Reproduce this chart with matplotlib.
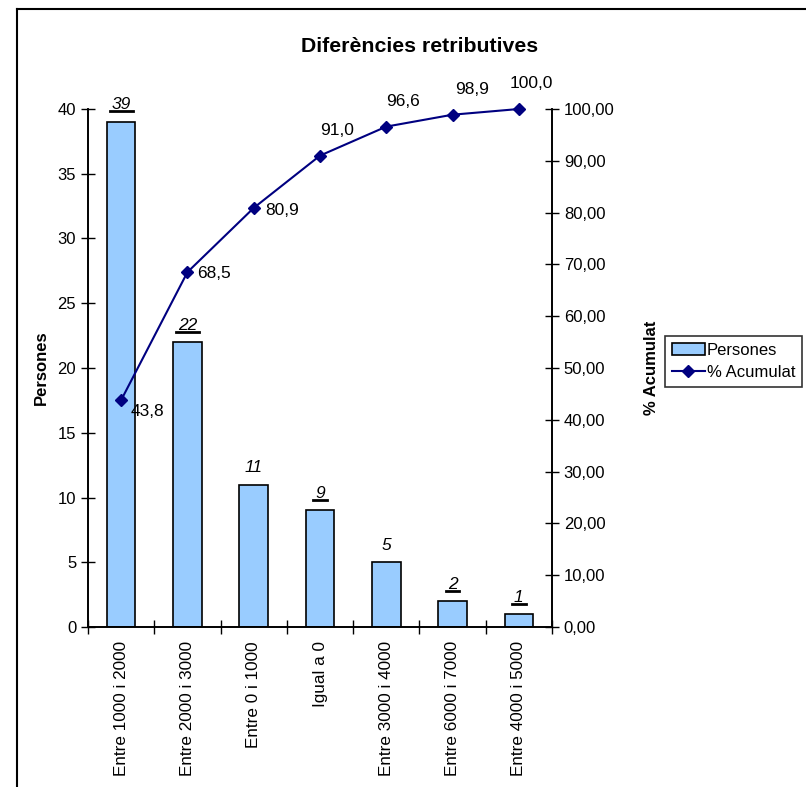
import numpy as np
import matplotlib.pyplot as plt
from matplotlib.lines import Line2D

plt.rcParams['font.family'] = ['Liberation Sans', 'DejaVu Sans']

categories = ["Entre 1000 i 2000", "Entre 2000 i 3000", "Entre 0 i 1000", "Igual a 0",
              "Entre 3000 i 4000", "Entre 6000 i 7000", "Entre 4000 i 5000"]
persones = [39, 22, 11, 9, 5, 2, 1]
acumulat = [43.8, 68.5, 80.9, 91.0, 96.6, 98.9, 100.0]
underlined = [True, True, False, True, False, True, True]

bar_color = "#99CCFF"
line_color = "#000080"

fig = plt.figure(figsize=(8.06, 7.87), dpi=100)
ax = fig.add_axes([88 / 806, 1 - 627 / 787, (552 - 88) / 806, (627 - 109) / 787])
ax2 = ax.twinx()

x = np.arange(len(categories))
bars = ax.bar(x, persones, width=0.43, color=bar_color, edgecolor="black", linewidth=1.2,
              label="Persones", zorder=2)
ax.set_xlim(-0.5, len(categories) - 0.5)
ax.set_ylim(0, 40)
ax.set_yticks(np.arange(0, 41, 5))
ax.set_xticks(x)
ax.set_xticklabels(categories, rotation=90, fontsize=12.3)
ax.set_xticks(np.arange(-0.5, len(categories)), minor=True)
ax.tick_params(axis="x", which="major", length=0, pad=10)
ax.tick_params(axis="x", which="minor", direction="inout", length=10, width=1)
ax.tick_params(axis="y", direction="inout", length=10, width=1, labelsize=12)
ax.set_ylabel("Persones", fontsize=12, fontweight="bold", labelpad=6)

ax2.plot(x, acumulat, color=line_color, marker="D", markersize=6, linewidth=1.5,
         label="% Acumulat", zorder=3, clip_on=False)
ax2.set_ylim(0, 100)
ax2.set_yticks(np.arange(0, 101, 10))
ax2.set_yticklabels([f"{v:.2f}".replace(".", ",") for v in np.arange(0, 101, 10)])
ax2.tick_params(axis="y", direction="inout", length=10, width=1, labelsize=12)
ax2.set_ylabel("% Acumulat", fontsize=12, fontweight="bold", labelpad=21)

for a in (ax, ax2):
    a.spines["top"].set_visible(False)
    for s in a.spines.values():
        s.set_linewidth(1.2)

# bar labels, italic, some underlined
bar_texts = []
for xi, v, u in zip(x, persones, underlined):
    t = ax.annotate(str(v), (xi, v), xytext=(0, 9), textcoords="offset points",
                    ha="center", va="baseline", fontsize=12.5, fontstyle="italic")
    bar_texts.append((t, u))

# line labels
offsets = [(7, -8, "left"), (7, -1, "left"), (8, -2, "left"), (12, 18, "center"),
           (12, 18, "center"), (14, 18, "center"), (9, 18, "center")]
for xi, v, (dx, dy, ha) in zip(x, acumulat, offsets):
    ax2.annotate(f"{v:.1f}".replace(".", ","), (xi, v), xytext=(dx, dy),
                 textcoords="offset points", ha=ha, va="center", fontsize=12.5,
                 annotation_clip=False)

fig.text(0.52, 1 - 47 / 787, "Diferències retributives", ha="center", va="center",
         fontsize=15.3, fontweight="bold")

h1, l1 = ax.get_legend_handles_labels()
h2, l2 = ax2.get_legend_handles_labels()
leg = fig.legend(h1 + h2, l1 + l2, loc="upper left", bbox_to_anchor=(665 / 806, 1 - 336 / 787),
                 fontsize=12, frameon=True, fancybox=False, edgecolor="black",
                 borderpad=0.4, handlelength=2.0, handletextpad=0.1, labelspacing=0.45,
                 borderaxespad=0)
leg.get_frame().set_linewidth(1.2)

# outer chart border (left and top visible)
fig.add_artist(Line2D([17 / 806, 17 / 806], [0, 1 - 9 / 787], transform=fig.transFigure,
                      color="black", linewidth=1.5))
fig.add_artist(Line2D([17 / 806, 1], [1 - 9 / 787, 1 - 9 / 787], transform=fig.transFigure,
                      color="black", linewidth=1.5))

# underline selected bar labels, just under the baseline
fig.canvas.draw()
renderer = fig.canvas.get_renderer()
inv = fig.transFigure.inverted()
for (t, u), v, xi in zip(bar_texts, persones, x):
    if not u:
        continue
    bb = t.get_window_extent(renderer)
    base = ax.transData.transform((xi, v))[1] + 9 * fig.dpi / 72
    (x0, y0), (x1, _) = inv.transform([(bb.x0 - 2, base - 2), (bb.x1 + 2, base - 2)])
    fig.add_artist(Line2D([x0, x1], [y0, y0], transform=fig.transFigure,
                          color="black", linewidth=2))

fig.savefig("out.png", dpi=100)
